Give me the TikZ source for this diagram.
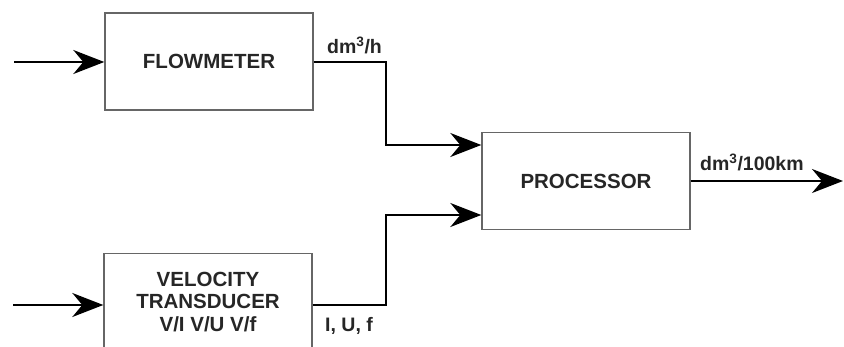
\documentclass[tikz,border=0pt]{standalone}
\usepackage{fontspec}
\setmainfont{Liberation Sans}
\usetikzlibrary{arrows.meta,positioning}

\begin{document}
\begin{tikzpicture}[x=1pt,y=-1pt,
    every node/.style={font=\bfseries\fontsize{20.5}{22.5}\selectfont,text=black!85},
    block/.style={draw=black!60,line width=1.4pt,minimum width=208pt,
                  minimum height=97pt,align=center,inner sep=0pt},
    flow/.style={-{Stealth[length=31pt,width=24pt,inset=10pt]},line width=2pt},
    sig/.style={font=\bfseries\fontsize{19.5}{21}\selectfont,inner sep=0pt,anchor=base west}]
  \clip (0,0) rectangle (844,347);
  % blocks
  \node[block] (flowmeter) at (209,61.5) {FLOWMETER};
  \node[block] (processor) at (586,181) {PROCESSOR};
  \node[block] (velocity)  at (208,302) {VELOCITY\\TRANSDUCER\\V/I V/U V/f};
  % free ends
  \coordinate (in1) at (14,62);
  \coordinate (in2) at (13,305);
  \coordinate (out) at (843,181);
  % signals
  \draw[flow] (in1) -- (in1 -| flowmeter.west);
  \draw[flow] (in2) -- (in2 -| velocity.west);
  \draw[flow] (in1 -| flowmeter.east) -- ++(72,0) |- ([yshift=36pt]processor.west);
  \draw[flow] (in2 -| velocity.east) -- ++(73,0) |- ([yshift=-34pt]processor.west);
  \draw[flow] (processor) -- (out);
  % labels
  \node[sig] (flowlbl) at (327,54)  {dm\textsuperscript{3}/h};
  \node[sig] (outlbl)  at (700,171) {dm\textsuperscript{3}/100km};
  \node[sig] (vellbl)  at (325,332) {I, U, f};
\end{tikzpicture}
\end{document}
